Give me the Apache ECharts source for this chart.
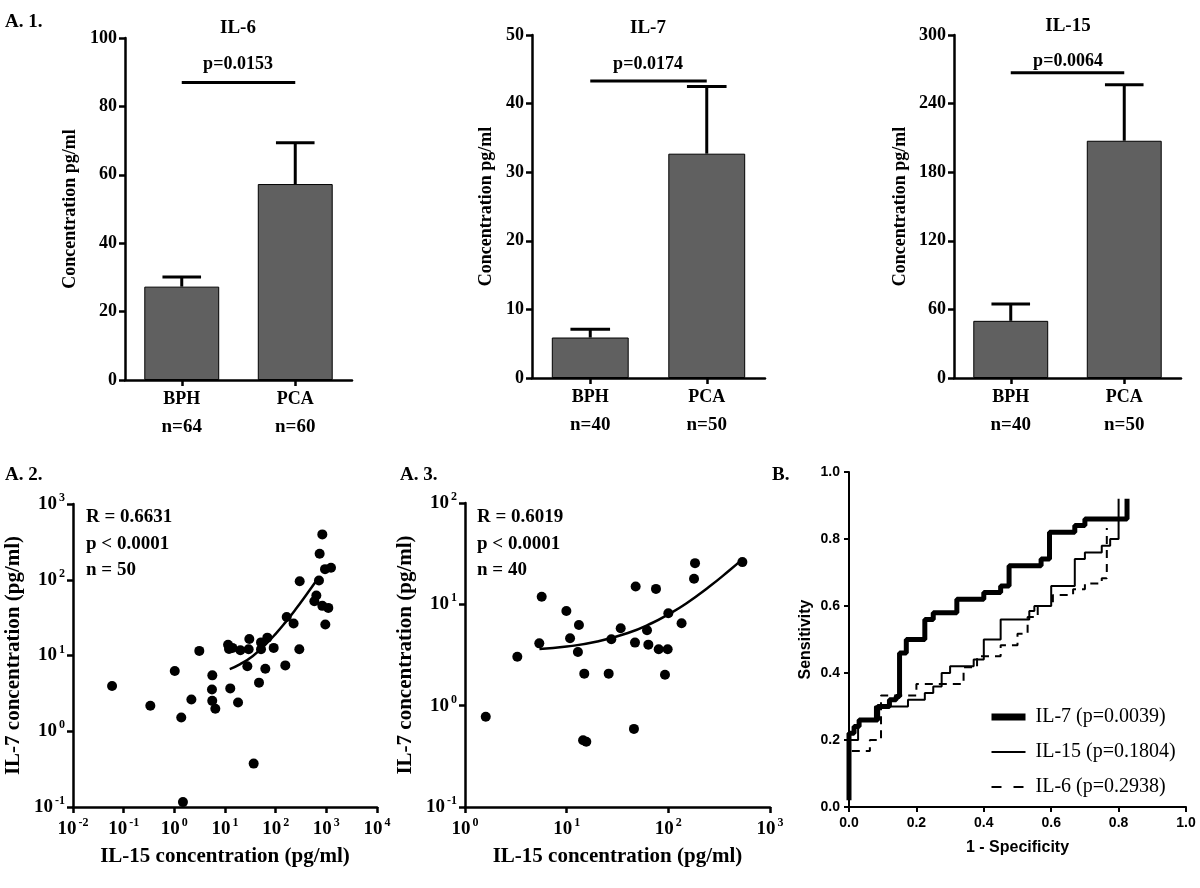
<!DOCTYPE html>
<html>
<head>
<meta charset="utf-8">
<script src="https://cdn.jsdelivr.net/npm/echarts@6/dist/echarts.min.js"></script>
<style>html,body{margin:0;padding:0;background:#fff}#c{width:1200px;height:888px}</style>
</head>
<body>
<div id="c"></div>
<script>
// ---------- data ----------
const categories = ['BPH', 'PCA'];

const il6Mean = [27.3, 57.3];
const il6Upper = [30.1, 69.4];
const il6N = [64, 60];
const il6Sig = 87;

const il7Mean = [5.9, 32.7];
const il7Upper = [7.1, 42.5];
const il7N = [40, 50];
const il7Sig = 43.3;

const il15Mean = [50, 207.5];
const il15Upper = [64.7, 256.5];
const il15N = [40, 50];
const il15Sig = 267;

// A.2 scatter: IL-15 (x) vs IL-7 (y)
const a2IL15 = [0.059, 0.336, 1.02, 1.37, 1.48, 2.17, 3.11, 5.62, 5.53, 5.6, 6.44, 11.5, 12.0, 14.0, 12.7, 20.1, 18.1, 27.6, 29.3, 30.2, 36.8, 46.9, 51.4, 51.4, 62.5, 68.5, 91.4, 155, 165, 226, 293, 298, 580, 635, 716, 738, 833, 833, 942, 955, 1094, 1236];
const a2IL7 = [3.95, 2.17, 6.24, 1.52, 0.116, 2.63, 11.5, 5.47, 3.56, 2.52, 1.98, 13.9, 12.2, 12.6, 3.68, 11.7, 2.4, 7.2, 12.1, 16.5, 0.374, 4.38, 14.9, 12.1, 6.7, 17.2, 12.6, 7.4, 32.3, 26.4, 12.1, 95.7, 52.1, 62, 97.7, 220, 397, 45.2, 138, 25.6, 42.5, 144];
const a2FitX = [12.4, 20, 35, 60, 100, 160, 250, 400, 655];
const a2FitY = [6.6, 7.7, 9.8, 13.5, 19.3, 28, 41, 63, 100];

// A.3 scatter
const a3IL15 = [1.6, 3.27, 5.38, 5.68, 9.93, 10.8, 13.2, 12.9, 14.9, 14.5, 15.6, 25.9, 27.5, 34, 45.9, 47, 47.7, 61.7, 63.6, 75.6, 80.4, 92.7, 98.5, 100, 135, 179, 183, 535];
const a3IL7 = [0.776, 3.04, 4.12, 11.9, 8.6, 4.62, 6.26, 3.39, 2.07, 0.456, 0.44, 2.07, 4.52, 5.81, 0.59, 4.19, 15, 5.55, 4.0, 14.2, 3.6, 2.02, 3.6, 8.17, 6.5, 17.9, 25.5, 26.1];
const a3FitX = [5.4, 10, 20, 40, 70, 100, 150, 250, 400, 526];
const a3FitY = [3.62, 3.83, 4.29, 5.21, 6.58, 7.96, 10.2, 14.8, 21.7, 27.5];

// B. ROC curves [1-specificity, sensitivity]
const rocIL7 = [[0,0.02],[0,0.22],[0.015,0.22],[0.015,0.24],[0.03,0.24],[0.03,0.26],[0.085,0.26],[0.085,0.30],[0.12,0.30],[0.12,0.32],[0.14,0.32],[0.14,0.33],[0.15,0.33],[0.15,0.46],[0.17,0.46],[0.17,0.50],[0.225,0.50],[0.225,0.56],[0.25,0.56],[0.25,0.58],[0.32,0.58],[0.32,0.62],[0.40,0.62],[0.40,0.64],[0.45,0.64],[0.45,0.66],[0.475,0.66],[0.475,0.72],[0.57,0.72],[0.57,0.74],[0.595,0.74],[0.595,0.82],[0.67,0.82],[0.67,0.84],[0.70,0.84],[0.70,0.86],[0.825,0.86],[0.825,0.92]];
const rocIL15 = [[0,0.05],[0,0.20],[0.027,0.20],[0.027,0.26],[0.077,0.26],[0.077,0.30],[0.175,0.30],[0.175,0.32],[0.225,0.32],[0.225,0.34],[0.25,0.34],[0.25,0.36],[0.275,0.36],[0.275,0.40],[0.30,0.40],[0.30,0.42],[0.37,0.42],[0.37,0.44],[0.40,0.44],[0.40,0.50],[0.45,0.50],[0.45,0.56],[0.535,0.56],[0.535,0.585],[0.55,0.585],[0.55,0.60],[0.60,0.60],[0.60,0.66],[0.67,0.66],[0.67,0.74],[0.70,0.74],[0.70,0.76],[0.75,0.76],[0.75,0.78],[0.775,0.78],[0.775,0.80],[0.80,0.80],[0.80,0.92]];
const rocIL6 = [[0,0.05],[0,0.167],[0.062,0.167],[0.062,0.20],[0.095,0.20],[0.095,0.333],[0.20,0.333],[0.20,0.367],[0.34,0.367],[0.34,0.417],[0.38,0.417],[0.38,0.45],[0.45,0.45],[0.45,0.483],[0.50,0.483],[0.50,0.517],[0.53,0.517],[0.53,0.567],[0.56,0.567],[0.56,0.60],[0.605,0.60],[0.605,0.633],[0.665,0.633],[0.665,0.65],[0.70,0.65],[0.70,0.667],[0.75,0.667],[0.75,0.683],[0.765,0.683],[0.765,0.833]];
const rocNames = ['IL-7 (p=0.0039)', 'IL-15 (p=0.1804)', 'IL-6 (p=0.2938)'];

// ---------- styling helpers ----------
const SERIF = '"Liberation Serif", "Times New Roman", serif';
const SANS = '"Liberation Sans", Arial, sans-serif';
const axisLineBlack = { show: true, lineStyle: { color: '#000', width: 2.5 } };
const tickBlack = { show: true, length: 6, lineStyle: { color: '#000', width: 2.5 } };

const option = {
  backgroundColor: '#fff',
  animation: false,
  grid: [], xAxis: [], yAxis: [], series: [], graphic: []
};

function addBarPanel(gridDef, max, interval, mean, upper, n, sig) {
  const gi = option.grid.length;
  option.grid.push({ left: gridDef.left, top: gridDef.top, width: gridDef.width, height: gridDef.height });
  option.xAxis.push({
    type: 'category', gridIndex: gi, data: categories,
    axisLine: axisLineBlack,
    axisTick: Object.assign({ alignWithLabel: true }, tickBlack),
    axisLabel: {
      margin: 5, interval: 0,
      formatter: (v, i) => '{c|' + v + '}\n{n|n=' + n[i] + '}',
      rich: {
        c: { fontFamily: SERIF, fontWeight: 'bold', fontSize: 18, lineHeight: 28, color: '#000' },
        n: { fontFamily: SERIF, fontWeight: 'bold', fontSize: 19, lineHeight: 28, color: '#000' }
      }
    }
  });
  option.yAxis.push({
    type: 'value', gridIndex: gi, min: 0, max: max, interval: interval,
    axisLine: axisLineBlack, axisTick: tickBlack, splitLine: { show: false },
    axisLabel: { margin: 8, fontFamily: SERIF, fontWeight: 'bold', fontSize: 18, color: '#000' },
    name: 'Concentration pg/ml', nameLocation: 'middle', nameGap: gridDef.nameGap,
    nameTextStyle: { fontFamily: SERIF, fontWeight: 'bold', fontSize: 18, color: '#000' }
  });
  option.series.push({
    type: 'bar', xAxisIndex: gi, yAxisIndex: gi, data: mean, barWidth: '66%',
    itemStyle: { color: '#606060', borderColor: '#000', borderWidth: 1 }, z: 2
  });
  option.series.push({
    type: 'custom', xAxisIndex: gi, yAxisIndex: gi, z: 3,
    data: categories.map((c, i) => [i, mean[i], upper[i]]),
    renderItem: (params, api) => {
      const b = api.coord([api.value(0), api.value(1)]);
      const t = api.coord([api.value(0), api.value(2)]);
      const cw = api.size([1, 0])[0] * 0.17;
      return { type: 'group', children: [
        { type: 'line', shape: { x1: b[0], y1: b[1], x2: t[0], y2: t[1] }, style: { stroke: '#000', lineWidth: 3 } },
        { type: 'line', shape: { x1: t[0] - cw, y1: t[1], x2: t[0] + cw, y2: t[1] }, style: { stroke: '#000', lineWidth: 3 } }
      ] };
    }
  });
  option.series.push({
    type: 'line', xAxisIndex: gi, yAxisIndex: gi, data: [sig, sig], symbol: 'none',
    lineStyle: { color: '#000', width: 3 }, silent: true, z: 4
  });
}

addBarPanel({ left: 125, top: 38, width: 227, height: 342, nameGap: 46 }, 100, 20, il6Mean, il6Upper, il6N, il6Sig);
addBarPanel({ left: 532, top: 35, width: 233, height: 343, nameGap: 37 }, 50, 10, il7Mean, il7Upper, il7N, il7Sig);
addBarPanel({ left: 954, top: 35, width: 227, height: 343, nameGap: 45 }, 300, 60, il15Mean, il15Upper, il15N, il15Sig);

const powFmt = v => {
  const e = Math.round(Math.log10(v));
  return '{b|10}{s|' + (e < 0 ? '-' : '') + Math.abs(e) + '}';
};
const powRich = {
  b: { fontFamily: SERIF, fontWeight: 'bold', fontSize: 19, color: '#000', lineHeight: 24, verticalAlign: 'middle' },
  s: { fontFamily: SERIF, fontWeight: 'bold', fontSize: 12, color: '#000', lineHeight: 24, verticalAlign: 'top', padding: [0, 0, 0, 2] }
};

function addScatterPanel(gridDef, xmin, xmax, ymin, ymax, xs, ys, fx, fy) {
  const gi = option.grid.length;
  option.grid.push({ left: gridDef.left, top: gridDef.top, width: gridDef.width, height: gridDef.height });
  option.xAxis.push({
    type: 'log', logBase: 10, gridIndex: gi, min: xmin, max: xmax,
    axisLine: axisLineBlack, axisTick: tickBlack, splitLine: { show: false }, minorTick: { show: false },
    axisLabel: { margin: 10, formatter: powFmt, rich: powRich, showMinLabel: true, showMaxLabel: true },
    name: 'IL-15 concentration (pg/ml)', nameLocation: 'middle', nameGap: 39,
    nameTextStyle: { fontFamily: SERIF, fontWeight: 'bold', fontSize: 21, color: '#000' }
  });
  option.yAxis.push({
    type: 'log', logBase: 10, gridIndex: gi, min: ymin, max: ymax,
    axisLine: axisLineBlack, axisTick: tickBlack, splitLine: { show: false }, minorTick: { show: false },
    axisLabel: { margin: 8, formatter: powFmt, rich: powRich, showMinLabel: true, showMaxLabel: true },
    name: 'IL-7 concentration (pg/ml)', nameLocation: 'middle', nameGap: gridDef.nameGap,
    nameTextStyle: { fontFamily: SERIF, fontWeight: 'bold', fontSize: 21, color: '#000' }
  });
  option.series.push({
    type: 'scatter', xAxisIndex: gi, yAxisIndex: gi, symbolSize: 10,
    data: xs.map((x, i) => [x, ys[i]]), itemStyle: { color: '#000', opacity: 1 }
  });
  option.series.push({
    type: 'line', xAxisIndex: gi, yAxisIndex: gi, symbol: 'none', smooth: true,
    data: fx.map((x, i) => [x, fy[i]]), lineStyle: { color: '#000', width: 2.5 }
  });
}

addScatterPanel({ left: 73, top: 504, width: 304, height: 303, nameGap: 49 }, 0.01, 10000, 0.1, 1000, a2IL15, a2IL7, a2FitX, a2FitY);
addScatterPanel({ left: 465, top: 503, width: 305, height: 304, nameGap: 49 }, 1, 1000, 0.1, 100, a3IL15, a3IL7, a3FitX, a3FitY);

// ROC panel
(function () {
  const gi = option.grid.length;
  option.grid.push({ left: 849, top: 472, width: 337, height: 335 });
  const lab = { margin: 9, fontFamily: SANS, fontWeight: 'bold', fontSize: 14, color: '#000', formatter: v => v.toFixed(1) };
  option.xAxis.push({
    type: 'value', gridIndex: gi, min: 0, max: 1, interval: 0.2,
    axisLine: { show: true, lineStyle: { color: '#000', width: 2 } },
    axisTick: { show: true, length: 5, lineStyle: { color: '#000', width: 2 } },
    splitLine: { show: false }, axisLabel: lab,
    name: '1 - Specificity', nameLocation: 'middle', nameGap: 33,
    nameTextStyle: { fontFamily: SANS, fontWeight: 'bold', fontSize: 16, color: '#000' }
  });
  option.yAxis.push({
    type: 'value', gridIndex: gi, min: 0, max: 1, interval: 0.2,
    axisLine: { show: true, lineStyle: { color: '#000', width: 2 } },
    axisTick: { show: true, length: 5, lineStyle: { color: '#000', width: 2 } },
    splitLine: { show: false }, axisLabel: lab,
    name: 'Sensitivity', nameLocation: 'middle', nameGap: 35,
    nameTextStyle: { fontFamily: SANS, fontWeight: 'bold', fontSize: 16, color: '#000' }
  });
  const rocData = [rocIL7, rocIL15, rocIL6];
  const rocStyles = [
    { color: '#000', width: 5, type: 'solid' },
    { color: '#000', width: 2, type: 'solid' },
    { color: '#000', width: 2, type: [8, 6] }
  ];
  const legendWidths = [7, 2, 2];
  rocData.forEach((d, k) => {
    option.series.push({
      type: 'line', name: rocNames[k], xAxisIndex: gi, yAxisIndex: gi, symbol: 'none',
      data: d, lineStyle: rocStyles[k], itemStyle: { color: '#000' }, z: 5 - k
    });
  });
  option.legend = {
    data: rocNames.map((nm, k) => ({
      name: nm,
      itemStyle: { opacity: 0 },
      lineStyle: { color: '#000', width: legendWidths[k], type: k === 2 ? [10, 12] : 'solid' }
    })),
    orient: 'vertical', left: 983, top: 702, itemWidth: 34, itemHeight: 16, itemGap: 15,
    selectedMode: false,
    itemStyle: { opacity: 0 },
    textStyle: { fontFamily: SERIF, fontSize: 20, color: '#000', padding: [0, 0, 0, 5] }
  };
})();

// free text labels
function txt(text, x, y, size, align, family) {
  option.graphic.push({
    type: 'text', x: x, y: y, silent: true,
    style: { text: text, font: 'bold ' + size + 'px ' + (family || SERIF), fill: '#000', align: align || 'left', verticalAlign: 'middle' }
  });
}
txt('A. 1.', 5, 22, 19);
txt('IL-6', 238, 28, 19, 'center');
txt('p=0.0153', 238, 64, 18, 'center');
txt('IL-7', 648, 28, 19, 'center');
txt('p=0.0174', 648, 64, 18, 'center');
txt('IL-15', 1068, 26, 19, 'center');
txt('p=0.0064', 1068, 61, 18, 'center');
txt('A. 2.', 5, 475, 19);
txt('A. 3.', 400, 475, 19);
txt('B.', 772, 475, 19);
txt('R = 0.6631', 86, 517, 19);
txt('p < 0.0001', 86, 544, 19);
txt('n = 50', 86, 570, 19);
txt('R = 0.6019', 477, 517, 19);
txt('p < 0.0001', 477, 544, 19);
txt('n = 40', 477, 570, 19);

const chart = echarts.init(document.getElementById('c'), null, { renderer: 'canvas' });
chart.setOption(option);
</script>
</body>
</html>
